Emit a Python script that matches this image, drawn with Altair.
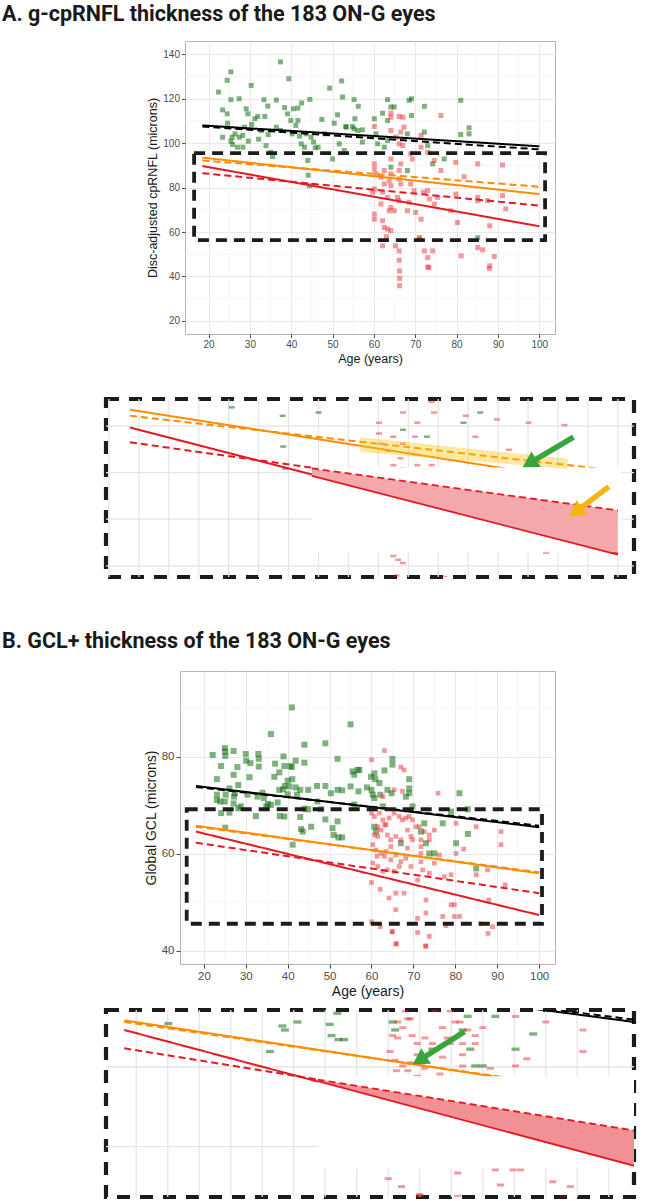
import altair as alt
import pandas as pd

# ---------------- text ----------------
TITLE_A = "A. g-cpRNFL thickness of the 183 ON-G eyes"
TITLE_B = "B. GCL+ thickness of the 183 ON-G eyes"
X_TITLE = "Age (years)"
Y_TITLE_A = "Disc-adjusted cpRNFL (microns)"
Y_TITLE_B = "Global GCL (microns)"

# ---------------- panel A data (age, microns) ----------------
a_green = [(22.4,123.0),(24.5,128.3),(25.4,132.1),(25.4,119.6),(23.4,115.0),(24.5,113.2),(24.6,109.0),
           (23.4,102.7),(25.7,102.7),(25.4,100.9),(25.8,99.4),(26.4,104.2),(27.0,98.2),(27.4,102.7),
           (28.3,98.2),(28.3,103.5),(27.4,120.0),(29.1,115.5),(29.5,113.2),(28.7,107.2),(29.6,100.9),
           (30.3,126.0),(30.4,108.4),(31.2,111.0),(31.9,112.0),(32.1,101.8),(32.7,105.7),(33.4,119.6),
           (33.6,112.0),(33.9,98.9),(34.3,116.7),(34.4,103.9),(35.0,95.9),(35.5,94.0),(36.4,119.4),
           (36.4,107.2),(37.4,136.6),(37.4,105.7),(38.4,116.0),(39.1,113.2),(39.4,129.0),(39.9,110.2),
           (40.2,104.2),(40.5,115.5),(41.1,108.0),(41.6,115.8),(41.6,110.2),(42.0,103.2),(42.4,99.7),
           (42.5,118.1),(43.2,98.2),(43.6,104.2),(44.0,92.2),(44.1,85.6),(44.4,80.9),(44.5,119.7),
           (44.8,102.7),(45.4,100.5),(45.8,97.9),(46.5,98.2),(47.4,110.7),(48.1,104.2),(49.3,124.8),
           (50.0,92.9),(50.4,109.0),(51.2,112.8),(51.6,99.7),(52.2,128.0),(52.4,120.8),(52.8,96.7),
           (53.3,107.2),(54.8,107.5),(55.4,111.0),(56.1,105.7),(55.2,119.6),(56.2,116.6),(53.2,107.5),
           (55.2,106.5),(57.2,106.0),(57.2,100.5),(60.1,111.0),(60.5,104.2),(60.9,99.7),(62.1,113.5),
           (63.3,119.6),(63.3,110.2),(64.1,116.3),(64.9,116.3),(63.3,101.2),(62.5,98.2),(64.1,89.2),
           (68.5,119.3),(69.1,120.0),(69.1,112.5),(68.1,104.2),(68.1,87.7),(72.2,116.6),(72.2,105.0),
           (73.0,98.9),(74.2,90.7),(77.0,92.9),(81.0,119.3),(83.0,106.9),(83.0,104.2),(81.0,103.9),
           (85.1,57.4)]
a_red = [(60.1,107.5),(60.1,90.7),(60.1,88.4),(60.5,86.2),(60.1,79.4),(59.7,77.9),(60.1,68.1),(60.1,65.8),
         (62.1,65.1),(61.7,72.6),(62.1,77.9),(62.5,81.6),(61.7,84.7),(62.5,87.7),(64.1,113.5),(64.1,111.7),
         (64.1,105.7),(64.1,92.9),(64.1,86.2),(63.7,83.1),(64.1,80.9),(63.3,75.6),(64.1,71.1),(63.7,69.6),
         (64.9,69.6),(62.5,62.1),(63.3,61.3),(64.1,60.6),(62.1,53.8),(66.1,112.0),(67.0,111.7),(67.3,107.2),
         (66.5,105.0),(65.3,102.7),(66.1,99.7),(67.0,98.9),(66.5,90.7),(66.1,87.7),(66.1,83.9),(66.5,81.6),
         (65.7,75.6),(66.1,74.1),(68.1,69.6),(68.5,73.4),(68.9,81.6),(69.7,78.6),(70.1,68.8),(71.4,65.8),
         (71.0,57.6),(69.3,92.9),(68.9,95.2),(71.4,103.5),(71.4,98.2),(73.0,95.9),(74.6,92.2),(73.0,78.6),
         (72.0,77.9),(73.4,74.9),(75.4,75.6),(76.2,87.7),(74.6,72.6),(76.2,112.5),(78.6,69.6),(80.2,64.3),
         (79.8,91.4),(79.8,77.1),(81.8,84.9),(85.1,90.7),(85.1,75.6),(85.1,74.1),(87.5,74.1),(91.1,90.2),
         (91.1,76.4),(91.9,70.4),(88.0,62.8),(85.1,53.0),(86.3,52.0),(89.1,49.0),(88.0,44.8),(66.1,51.5),
         (66.1,47.3),(72.2,51.5),(74.2,51.5),(73.0,48.5),(73.0,44.3),(63.0,57.9),(65.2,53.8),(66.2,42.5),
         (66.2,39.1),(66.2,35.8),(71.0,56.8),(73.3,44.0),(81.1,49.3),(87.9,43.6)]

# ---------------- panel B data (age, microns) ----------------
b_green = [(22.1,80.4),(23.1,75.4),(24.1,78.1),(25.0,81.8),(25.1,81.1),(25.1,80.2),(25.2,72.2),(23.1,72.2),
           (23.1,71.1),(23.9,70.8),(25.0,70.8),(24.1,68.4),(26.1,73.5),(26.1,68.5),(25.1,65.4),(27.1,81.2),
           (27.1,76.3),(27.4,72.5),(27.2,71.8),(27.1,70.4),(28.0,77.9),(28.2,74.2),(28.2,69.4),(28.8,69.8),
           (30.0,80.6),(30.1,79.2),(30.4,72.2),(30.9,75.8),(31.1,78.7),(33.0,80.6),(33.1,79.6),(33.1,78.0),
           (32.4,67.8),(32.8,71.8),(34.0,72.6),(34.3,71.5),(34.9,69.8),(35.3,70.3),(36.0,84.7),(36.0,70.1),
           (36.8,75.9),(37.0,78.6),(37.6,70.6),(38.0,76.8),(38.0,73.2),(38.1,67.8),(39.0,80.1),(39.2,78.1),
           (38.9,73.3),(39.2,67.7),(39.3,74.0),(40.0,75.1),(40.0,72.3),(40.4,73.9),(41.0,90.2),(41.0,77.9),
           (41.1,75.4),(41.2,61.9),(40.6,78.1),(41.9,79.2),(41.9,73.7),(42.2,72.2),(43.0,73.2),(43.0,67.6),
           (43.2,65.1),(43.6,64.6),(44.0,82.5),(44.0,78.8),(44.0,69.3),(44.9,73.2),(44.9,69.2),(45.6,65.6),
           (47.0,74.0),(47.1,70.8),(48.0,69.2),(49.0,82.8),(49.0,74.0),(49.0,67.1),(50.3,72.5),(50.7,65.3),
           (51.0,63.9),(51.9,79.6),(51.9,73.2),(51.9,66.7),(52.1,63.4),(53.0,73.1),(53.0,63.4),(55.0,86.7),
           (55.0,73.9),(55.5,77.0),(55.9,70.2),(56.7,77.3),(56.9,72.9),(57.1,77.3),(55.9,76.3),(58.9,73.7),
           (59.9,75.9),(60.7,76.6),(60.9,75.4),(60.0,73.2),(60.3,72.2),(60.7,71.5),(61.9,74.6),(62.1,72.2),
           (63.1,77.2),(63.8,73.2),(65.0,79.6),(65.0,78.4),(64.8,72.5),(62.7,69.8),(69.0,75.4),(69.0,73.5),
           (69.0,72.5),(68.2,71.8),(69.8,69.8),(67.0,62.2),(71.8,64.6),(73.0,62.2),(73.8,60.1),(75.0,60.1),
           (72.6,66.3),(77.0,66.3),(79.0,68.7),(81.0,72.5),(83.0,69.2),(83.0,64.1),(80.2,62.2),(85.0,57.0),
           (60.7,65.6),(61.1,64.6)]
b_red = [(63.1,81.3),(60.0,79.4),(67.0,77.9),(67.8,77.3),(75.9,72.5),(60.0,68.4),(60.7,67.7),(61.9,68.4),
         (62.7,67.0),(63.5,66.0),(64.2,67.4),(65.4,68.4),(66.6,67.7),(67.4,67.0),(68.2,67.4),(69.0,67.7),
         (69.8,67.0),(61.5,65.6),(62.3,64.9),(63.1,66.0),(60.7,63.9),(61.5,63.6),(63.8,63.9),(64.6,62.9),
         (65.8,63.6),(67.0,62.9),(60.3,61.9),(61.1,60.8),(62.3,60.1),(63.1,59.5),(64.6,58.8),(65.8,59.8),
         (67.0,58.4),(60.3,58.1),(61.5,57.4),(62.7,56.4),(63.8,56.7),(65.4,56.4),(69.4,57.4),(71.8,62.9),
         (71.8,61.5),(71.8,60.1),(71.8,58.4),(72.2,56.7),(71.0,54.6),(72.6,64.6),(73.8,63.9),(75.0,64.9),
         (76.2,59.8),(75.0,58.1),(73.8,56.0),(77.4,55.3),(79.0,55.7),(80.2,60.1),(80.2,66.3),(82.0,61.0),
         (85.0,65.6),(85.0,55.7),(87.7,56.7),(90.9,64.6),(90.9,61.9),(91.9,53.6),(88.0,50.5),(79.8,49.5),
         (79.0,49.5),(77.0,47.1),(79.8,47.1),(73.0,50.5),(73.0,47.8),(71.0,46.7),(67.8,51.9),(65.8,51.9),
         (65.8,48.5),(64.2,50.9),(62.1,52.7),(60.0,54.1),(60.0,46.0),(62.1,45.0),(65.0,44.0),(65.8,41.4),
         (71.0,43.8),(73.0,41.0),(73.8,43.0),(77.8,45.2),(81.0,47.1),(86.1,45.6),(88.9,45.0),(62.7,71.8),
         (65.4,73.2),(67.4,72.9),(68.6,64.9),(69.4,63.6),(69.8,62.9),(70.6,65.6),(64.6,61.5),(63.5,60.5),
         (61.3,59.5),(68.6,61.2),(68.2,59.1),(66.6,57.4),(71.4,65.6),(73.8,62.9),(64.9,43.9),(66.0,41.5),
         (72.9,41.0),(87.8,43.6)]

# ---------------- regression lines (start / end value at the two ages) ----------------
series = ["Controls", "Controls (model)", "Expected", "Expected (model)", "ON-G", "ON-G (model)"]
a_line_age = [18.5, 100]
a_line_start = [108.0, 107.5, 93.5, 92.2, 89.7, 86.5]
a_line_end = [98.6, 97.2, 77.1, 80.4, 62.6, 71.9]
b_line_age = [18.1, 100]
b_line_start = [74.0, 73.8, 65.8, 65.6, 64.6, 62.3]
b_line_end = [65.5, 65.8, 56.0, 56.2, 47.4, 51.9]

# zoom boxes (age from, age to, microns low, microns high)
a_box = [16.5, 101.4, 56.4, 95.5]
b_box = [15.9, 100.7, 45.6, 69.2]

# axis ticks
x_major = [20, 30, 40, 50, 60, 70, 80, 90, 100]
x_minor = [15, 25, 35, 45, 55, 65, 75, 85, 95]
a_y_major = [20, 40, 60, 80, 100, 120, 140]
a_y_minor = [30, 50, 70, 90, 110, 130]
b_y_major = [40, 60, 80]
b_y_minor = [50, 70, 90]

# ---------------- zoomed insets ----------------
ia_xdom, ia_ydom = [14.5, 102.7], [57.6, 95.8]
ib_xdom, ib_ydom = [15.2, 99.0], [43.7, 67.1]
ia_grid_x = [15, 20, 25, 30, 35, 40, 45, 50, 55, 60, 65, 70, 75, 80, 85, 90, 95, 100]
ia_grid_y = [60, 70, 80, 90]
ib_grid_x = [20, 25, 30, 35, 40, 45, 50, 55, 60, 65, 70, 75, 80, 85, 90, 95]
ib_grid_y = [50, 60]
ia_mask = [48.9, 100.6, 62.9, 81.1]
ib_mask = [48.8, 99.5, 47.3, 58.8]
ia_red_band_age, ia_red_band_top, ia_red_band_bot = [48.9, 100], [80.9, 71.9], [79.3, 62.4]
ia_yel_band_age, ia_yel_band_top, ia_yel_band_bot = [57.0, 91.6], [87.6, 83.0], [84.4, 80.8]
ib_red_band_age, ib_red_band_top, ib_red_band_bot = [48.8, 100], [58.4, 51.9], [58.2, 47.4]
# arrows: tail age, tail value, head age, head value, pointing angle
ia_arrows = [(92.6, 87.6, 85.6, 82.3, 239, "#3aa33a"), (98.5, 77.0, 93.3, 71.9, 233, "#f5b50f")]
ib_arrows = [(72.1, 64.4, 65.3, 61.0, 238, "#3aa33a")]

# ---------------- styles ----------------
FONT = "Liberation Sans"
TFONT = "Roboto"
GREEN = "#006400"
RED = "#e41a22"
ORANGE = "#ff8c00"
GRID = "#e6e6e6"
GRID_MINOR = "#f0f0f0"
BOXC = "#1c1c1c"
DASH = "M-1,-0.42L1,-0.42L1,0.42L-1,0.42Z"
line_colors = ["#000000", "#000000", ORANGE, ORANGE, RED, RED]
line_dashes = [[1, 0], [7, 4], [1, 0], [7, 4], [1, 0], [7, 4]]


def pts(pairs):
    return pd.DataFrame({"age": [p[0] for p in pairs], "val": [p[1] for p in pairs]})


def lines_df(ages, start, end):
    rows = []
    for s, v0, v1 in zip(series, start, end):
        rows.append({"series": s, "age": ages[0], "val": v0})
        rows.append({"series": s, "age": ages[1], "val": v1})
    return pd.DataFrame(rows)


def spacer(w, h):
    return alt.Chart(pd.DataFrame({"s": [0]})).mark_point(opacity=0).properties(width=w, height=h)


def main_panel(green, red, ages, start, end, box, ydom, y_major, y_minor, ytitle,
               w, h, lab_fs, tit_fs, tick, gsize, rsize, title, dx, offset):
    xs = alt.Scale(domain=[14.3, 103.8], nice=False, zero=False)
    ys = alt.Scale(domain=ydom, nice=False, zero=False)
    common = dict(grid=True, gridColor=GRID, gridWidth=0.9, domain=False, tickColor="#333333",
                  tickSize=tick, tickWidth=0.9, labelColor="#4d4d4d", labelFontSize=lab_fs,
                  labelFont=FONT, labelPadding=2, titleFont=FONT, titleFontSize=tit_fs,
                  titleFontWeight="normal", titleColor="#1a1a1a", titlePadding=3, labelFlush=False)
    xa = alt.Axis(values=x_major, title=X_TITLE, **common)
    ya = alt.Axis(values=y_major, title=ytitle, **common)

    def X(f):
        return alt.X(f, type="quantitative", scale=xs, axis=xa, title=X_TITLE)

    def Y(f):
        return alt.Y(f, type="quantitative", scale=ys, axis=ya, title=ytitle)

    mx = alt.Chart(pd.DataFrame({"age": x_minor})).mark_rule(color=GRID_MINOR, strokeWidth=0.6).encode(x=X("age"))
    my = alt.Chart(pd.DataFrame({"val": y_minor})).mark_rule(color=GRID_MINOR, strokeWidth=0.6).encode(y=Y("val"))
    g = alt.Chart(pts(green)).mark_square(size=gsize, opacity=0.5, color=GREEN).encode(x=X("age"), y=Y("val"))
    r = alt.Chart(pts(red)).mark_square(size=rsize, opacity=0.45, color=RED).encode(x=X("age"), y=Y("val"))
    ln = alt.Chart(lines_df(ages, start, end)).mark_line(strokeWidth=2).encode(
        x=X("age"), y=Y("val"),
        color=alt.Color("series:N", scale=alt.Scale(domain=series, range=line_colors), legend=None),
        strokeDash=alt.StrokeDash("series:N", scale=alt.Scale(domain=series, range=line_dashes), legend=None))
    bx = alt.Chart(pd.DataFrame({"x0": [box[0]], "x1": [box[1]], "y0": [box[2]], "y1": [box[3]]})).mark_rect(
        filled=False, stroke=BOXC, strokeWidth=3.8, strokeDash=[11, 7]).encode(
        x=X("x0"), x2="x1", y=Y("y0"), y2="y1")
    return alt.layer(mx, my, g, r, ln, bx).properties(
        width=w, height=h,
        view=alt.ViewBackground(stroke="#b3b3b3", strokeWidth=1),
        title=alt.TitleParams(title, anchor="start", frame="group", dx=dx, offset=offset,
                              font=TFONT, fontSize=21.5, fontWeight="bold", color="#1a1a1a",
                              baseline="alphabetic"))


def inset(green, red, ages, start, end, xdom, ydom, gx, gy, mask, bands, arrows, w, h, gsize, rsize):
    xs = alt.Scale(domain=xdom, nice=False, zero=False)
    ys = alt.Scale(domain=ydom, nice=False, zero=False)

    def X(f):
        return alt.X(f, type="quantitative", scale=xs, axis=None)

    def Y(f):
        return alt.Y(f, type="quantitative", scale=ys, axis=None)

    layers = [
        alt.Chart(pd.DataFrame({"age": gx})).mark_rule(color=GRID, strokeWidth=1.3, clip=True).encode(x=X("age")),
        alt.Chart(pd.DataFrame({"val": gy})).mark_rule(color=GRID, strokeWidth=1.3, clip=True).encode(y=Y("val")),
        alt.Chart(pts(green)).mark_point(shape=DASH, filled=True, size=gsize, opacity=0.5, color=GREEN,
                                         clip=True).encode(x=X("age"), y=Y("val")),
        alt.Chart(pts(red)).mark_point(shape=DASH, filled=True, size=rsize, opacity=0.45, color=RED,
                                       clip=True).encode(x=X("age"), y=Y("val")),
        alt.Chart(lines_df(ages, start, end)).mark_line(strokeWidth=2, clip=True).encode(
            x=X("age"), y=Y("val"),
            color=alt.Color("series:N", scale=alt.Scale(domain=series, range=line_colors), legend=None),
            strokeDash=alt.StrokeDash("series:N", scale=alt.Scale(domain=series, range=line_dashes), legend=None)),
        alt.Chart(pd.DataFrame({"x0": [mask[0]], "x1": [mask[1]], "y0": [mask[2]], "y1": [mask[3]]})).mark_rect(
            color="white", opacity=1, clip=True).encode(x=X("x0"), x2="x1", y=Y("y0"), y2="y1"),
    ]
    for b_age, b_top, b_bot, colr, op, edge in bands:
        bdf = pd.DataFrame({"age": b_age, "top": b_top, "bot": b_bot})
        layers.append(alt.Chart(bdf).mark_area(color=colr, opacity=op, clip=True).encode(
            x=X("age"), y=Y("top"), y2="bot"))
        if edge:
            layers.append(alt.Chart(bdf).mark_line(color=RED, strokeWidth=1.8, strokeDash=[7, 4], clip=True).encode(
                x=X("age"), y=Y("top")))
            layers.append(alt.Chart(bdf).mark_line(color=RED, strokeWidth=1.8, clip=True).encode(
                x=X("age"), y=Y("bot")))
    for (a0, v0, a1, v1, ang, col) in arrows:
        adf = pd.DataFrame({"a0": [a0], "v0": [v0], "a1": [a1], "v1": [v1]})
        layers.append(alt.Chart(adf).mark_rule(color=col, strokeWidth=5.5, clip=True).encode(
            x=X("a0"), y=Y("v0"), x2="a1", y2="v1"))
        layers.append(alt.Chart(adf).mark_point(shape="triangle", filled=True, size=330, opacity=1,
                                                color=col, angle=ang, clip=True).encode(x=X("a1"), y=Y("v1")))
    return alt.layer(*layers).properties(
        width=w, height=h,
        view=alt.ViewBackground(stroke=BOXC, strokeWidth=4.2, strokeDash=[13, 10]))


panelA = main_panel(a_green, a_red, a_line_age, a_line_start, a_line_end, a_box, [14.1, 146.0],
                    a_y_major, a_y_minor, Y_TITLE_A, 370, 293, 10, 12.5, 3.5, 25, 25, TITLE_A, -183, -2)
panelB = main_panel(b_green, b_red, b_line_age, b_line_start, b_line_end, b_box, [37.3, 97.7],
                    b_y_major, b_y_minor, Y_TITLE_B, 375, 293, 11.5, 14, 4, 36, 22, TITLE_B, -178, 1)

insetA = inset(a_green, a_red, a_line_age, a_line_start, a_line_end, ia_xdom, ia_ydom, ia_grid_x, ia_grid_y,
               ia_mask,
               [(ia_yel_band_age, ia_yel_band_top, ia_yel_band_bot, "#f5c518", 0.4, False),
                (ia_red_band_age, ia_red_band_top, ia_red_band_bot, RED, 0.38, True)],
               ia_arrows, 528, 178, 36, 36)
insetB = inset(b_green, b_red, b_line_age, b_line_start, b_line_end, ib_xdom, ib_ydom, ib_grid_x, ib_grid_y,
               ib_mask,
               [(ib_red_band_age, ib_red_band_top, ib_red_band_bot, RED, 0.48, True)],
               ib_arrows, 528, 187, 64, 49)

rowA = alt.hconcat(spacer(182, 293), panelA, spacing=0, bounds="flush")
rowIA = alt.hconcat(spacer(103, 178), insetA, spacing=0, bounds="flush")
rowB = alt.hconcat(spacer(177, 293), panelB, spacing=0, bounds="flush")
rowIB = alt.hconcat(spacer(103, 187), insetB, spacing=0, bounds="flush")

chart = alt.vconcat(rowA, spacer(1, 30), rowIA, spacer(1, 50), rowB, spacer(1, 8), rowIB,
                    spacing=0).properties(
    padding={"left": 0, "top": 3, "right": 0, "bottom": 0}
).configure_view(stroke=None)

chart.save("out.html", embed_options={"renderer": "svg", "actions": False})
